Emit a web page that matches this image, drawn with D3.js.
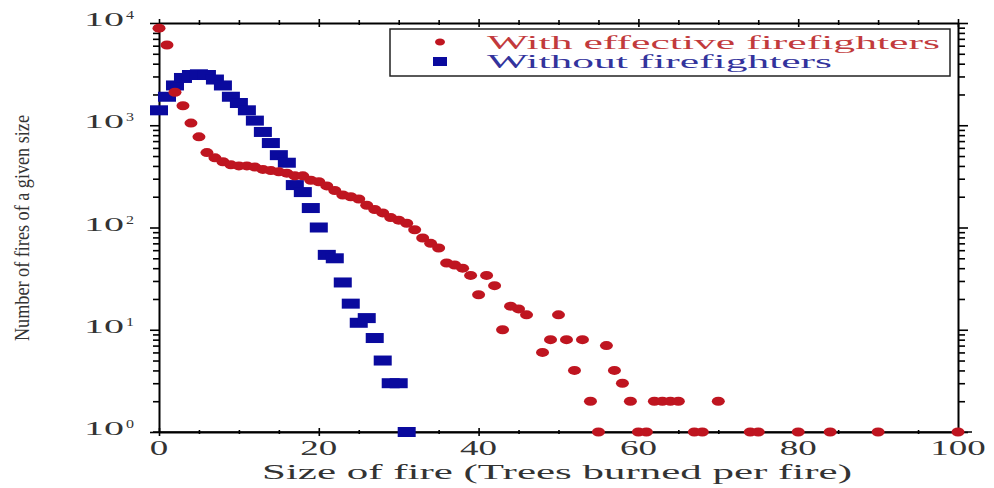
<!DOCTYPE html>
<html>
<head>
<meta charset="utf-8">
<script src="https://cdn.jsdelivr.net/npm/d3@7"></script>
<style>
  body { margin: 0; background: #fff; }
  svg { display: block; }
</style>
</head>
<body>
<svg width="994" height="488"></svg>
<script>
// with effective firefighters (red circles)
var redX = [0, 1, 2, 3, 4, 5, 6, 7, 8, 9, 10, 11, 12, 13, 14, 15, 16, 17, 18, 19, 20,
  21, 22, 23, 24, 25, 26, 27, 28, 29, 30, 31, 32, 33, 34, 35, 36, 37, 38, 39, 40,
  41, 42, 43, 44, 45, 46, 48, 49, 50, 51, 52, 53, 54, 55, 56, 57, 58, 59, 60, 61,
  62, 63, 64, 65, 67, 68, 70, 74, 75, 80, 84, 90, 100];
var redY = [8900, 6100, 2100, 1550, 1050, 770, 540, 480, 440, 410, 400, 400, 390, 370, 360, 350, 340, 320, 320, 290, 280,
  255, 230, 208, 200, 190, 165, 150, 139, 125, 118, 110, 95, 79, 70, 63, 45, 43, 40, 34, 22,
  34, 27, 10, 17, 16, 14, 6, 8, 14, 8, 4, 8, 2, 1, 7, 4, 3, 2, 1, 1,
  2, 2, 2, 2, 1, 1, 2, 1, 1, 1, 1, 1, 1];

// without firefighters (blue squares)
var blueX = [0, 1, 2, 3, 4, 5, 6, 7, 8, 9, 10, 11, 12, 13, 14, 15, 16, 17, 18, 19, 20,
  21, 22, 23, 24, 25, 26, 27, 28, 29, 30, 31];
var blueY = [1400, 1900, 2450, 2900, 3100, 3150, 3100, 2800, 2450, 1900, 1650, 1400, 1110, 860, 670, 510, 430, 260, 222, 155, 100,
  54, 50, 29, 18, 11.7, 13, 8.3, 5, 3, 3, 1];

var xTicks = [0, 20, 40, 60, 80, 100];
var yTickExps = [0, 1, 2, 3, 4];
var legendLabels = ["With effective firefighters", "Without firefighters"];
var xTitle = "Size of fire (Trees burned per fire)";
var yTitle = "Number of fires of a given size";

var svg = d3.select("svg");
var mLeft = 159, mRight = 958, mTop = 23, mBottom = 432;

var x = d3.scaleLinear().domain([0, 100]).range([mLeft, mRight]);
var y = d3.scaleLog().domain([1, 10000]).range([mBottom, mTop]);

var serif = "'Liberation Serif', 'DejaVu Serif', serif";
var red = "#bf1520", blue = "#0a0a9e";

function isMajor(d) {
  var l = Math.log10(d);
  return Math.abs(l - Math.round(l)) < 1e-6;
}

// frame + ticks
var yAll = y.ticks();

var gLeft = svg.append("g").attr("transform", "translate(" + mLeft + ",0)")
  .call(d3.axisLeft(y).tickValues(yAll).tickFormat("").tickSizeOuter(0));
gLeft.selectAll(".tick line").attr("x2", function (d) { return isMajor(d) ? -9 : -6; });

var gRight = svg.append("g").attr("transform", "translate(" + mRight + ",0)")
  .call(d3.axisRight(y).tickValues(yAll).tickFormat("").tickSizeOuter(0));
gRight.selectAll(".tick line").attr("x2", function (d) { return isMajor(d) ? 10 : 7; });

var xMinor = d3.range(0, 101, 5);
var gBottom = svg.append("g").attr("transform", "translate(0," + mBottom + ")")
  .call(d3.axisBottom(x).tickValues(xMinor).tickFormat("").tickSizeOuter(0));
gBottom.selectAll(".tick line")
  .attr("y1", function (d) { return d % 20 === 0 ? -4 : -2; })
  .attr("y2", function (d) { return d % 20 === 0 ? 4 : 2; });
gBottom.append("line").attr("x1", mLeft - 6).attr("x2", mRight + 14)
  .attr("stroke", "#000").attr("stroke-width", 1.5);

var gTop = svg.append("g").attr("transform", "translate(0," + mTop + ")")
  .call(d3.axisTop(x).tickValues(xMinor).tickFormat("").tickSizeOuter(0));
gTop.selectAll(".tick line")
  .attr("y1", function (d) { return d % 20 === 0 ? 4 : 2; })
  .attr("y2", function (d) { return d % 20 === 0 ? -4 : -3; });

svg.selectAll(".domain").attr("stroke", "#000").attr("stroke-width", 2);
svg.selectAll(".tick line").attr("stroke", "#000").attr("stroke-width", 1.6);

// tick labels
svg.append("g").selectAll("text")
  .data(xTicks)
  .enter().append("text")
  .attr("x", function (d) { return x(d); })
  .attr("y", 455)
  .attr("text-anchor", "middle")
  .attr("font-family", serif)
  .attr("font-size", 20)
  .attr("fill", "#333")
  .attr("textLength", function (d) { return String(d).length * 18.5; })
  .attr("lengthAdjust", "spacingAndGlyphs")
  .text(function (d) { return d; });

var yl = svg.append("g").selectAll("g")
  .data(yTickExps)
  .enter().append("g")
  .attr("transform", function (d) { return "translate(0," + y(Math.pow(10, d)) + ")"; });
yl.append("text")
  .attr("x", 104).attr("y", 3)
  .attr("text-anchor", "middle")
  .attr("font-family", serif).attr("font-size", 18)
  .attr("fill", "#333")
  .attr("textLength", 40).attr("lengthAdjust", "spacingAndGlyphs")
  .text("10");
yl.append("text")
  .attr("x", 130).attr("y", -4)
  .attr("text-anchor", "middle")
  .attr("font-family", serif).attr("font-size", 12)
  .attr("fill", "#333")
  .attr("textLength", 8).attr("lengthAdjust", "spacingAndGlyphs")
  .text(function (d) { return d; });

// axis titles
svg.append("text")
  .attr("x", 557).attr("y", 479)
  .attr("text-anchor", "middle")
  .attr("font-family", serif).attr("font-size", 21)
  .attr("fill", "#333")
  .attr("textLength", 590).attr("lengthAdjust", "spacingAndGlyphs")
  .text(xTitle);

svg.append("text")
  .attr("transform", "translate(29,228) rotate(-90)")
  .attr("text-anchor", "middle")
  .attr("font-family", serif)
  .attr("font-size", 21)
  .attr("fill", "#333")
  .attr("textLength", 226).attr("lengthAdjust", "spacingAndGlyphs")
  .text(yTitle);

// data
svg.append("g").selectAll("rect")
  .data(blueX)
  .enter().append("rect")
  .attr("x", function (d) { return x(d) - 9; })
  .attr("y", function (d, i) { return y(blueY[i]) - 5; })
  .attr("width", 18)
  .attr("height", 10)
  .attr("fill", blue);

svg.append("g").selectAll("ellipse")
  .data(redX)
  .enter().append("ellipse")
  .attr("cx", function (d) { return x(d); })
  .attr("cy", function (d, i) { return y(redY[i]); })
  .attr("rx", 6.5)
  .attr("ry", 4.5)
  .attr("fill", red);

// legend
var lg = svg.append("g");
lg.append("rect")
  .attr("x", 390).attr("y", 29).attr("width", 560).attr("height", 47)
  .attr("fill", "#fff").attr("stroke", "#222").attr("stroke-width", 1.5);
lg.append("ellipse").attr("cx", 440).attr("cy", 42).attr("rx", 5).attr("ry", 3.5).attr("fill", red);
lg.append("rect").attr("x", 433).attr("y", 57).attr("width", 14).attr("height", 9).attr("fill", blue);
lg.selectAll("text.leg")
  .data(legendLabels)
  .enter().append("text")
  .attr("class", "leg")
  .attr("x", 487)
  .attr("y", function (d, i) { return 49 + i * 19; })
  .attr("font-family", serif).attr("font-size", 19)
  .attr("fill", function (d, i) { return i === 0 ? "#c23a3c" : "#33339c"; })
  .attr("textLength", function (d, i) { return i === 0 ? 453 : 345; })
  .attr("lengthAdjust", "spacingAndGlyphs")
  .text(function (d) { return d; });
</script>
</body>
</html>
